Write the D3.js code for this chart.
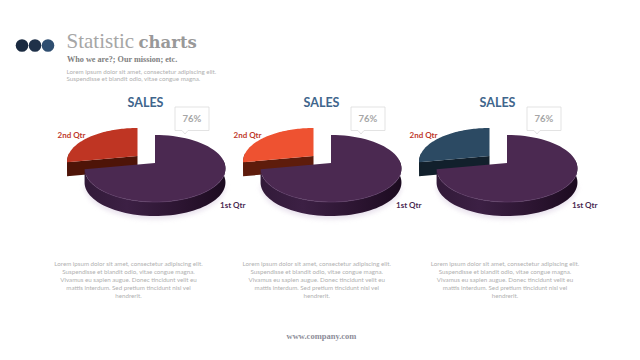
<!DOCTYPE html>
<html>
<head>
<meta charset="utf-8">
<script src="https://cdn.jsdelivr.net/npm/d3@7"></script>
<style>
  html, body { margin: 0; padding: 0; background: #fff; }
  svg { display: block; }
  text { font-family: Lato, "Open Sans", sans-serif; }
  .serif { font-family: "Liberation Serif", serif; }
  .slab { font-family: "DejaVu Serif", serif; }
</style>
</head>
<body>
<svg id="chart" width="640" height="360"></svg>
<script>
// values
var categories = ['1st Qtr', '2nd Qtr']
var shares = [72, 28] // share of the circle as drawn
var shareLabel = '76%'
var chartTitle = 'SALES'
var secondColors = ['#bf3523', '#ee5231', '#2c4a63']
var secondSides = ['#4e1408', '#5e1c0c', '#12202c']
var headerDots = ['#1a2a40', '#1f3149', '#2f4e70']
var headerBody = [
  'Lorem ipsum dolor sit amet, consectetur adipiscing elit.',
  'Suspendisse et blandit odio, vitae congue magna.'
]
var captionLines = [
  'Lorem ipsum dolor sit amet, consectetur adipiscing elit.',
  'Suspendisse et blandit odio, vitae congue magna.',
  'Vivamus eu sapien augue. Donec tincidunt velit eu',
  'mattis interdum. Sed pretium tincidunt nisl vel',
  'hendrerit.'
]

var svg = d3.select('#chart')
var defs = svg.append('defs')

defs.append('filter').attr('id', 'soft')
  .attr('x', '-20%').attr('y', '-60%').attr('width', '140%').attr('height', '220%')
  .append('feGaussianBlur').attr('stdDeviation', 2.5)

var wallGrad = defs.append('linearGradient').attr('id', 'wall')
wallGrad.append('stop').attr('offset', '0%').attr('stop-color', '#321a39')
wallGrad.append('stop').attr('offset', '30%').attr('stop-color', '#3c2044')
wallGrad.append('stop').attr('offset', '70%').attr('stop-color', '#2b1430')
wallGrad.append('stop').attr('offset', '100%').attr('stop-color', '#1c0b20')

/*
    --------------------------------------
    Header
*/
var dotX = d3.scalePoint().domain(d3.range(headerDots.length)).range([22, 48])

svg.selectAll('.dot')
  .data(headerDots)
  .enter().append('circle')
  .attr('cx', (d, i) => dotX(i))
  .attr('cy', 45.5)
  .attr('r', 6.3)
  .attr('fill', d => d)

svg.append('text').attr('class', 'serif')
  .attr('x', 66.5).attr('y', 47.5)
  .attr('font-size', 21)
  .attr('fill', '#a6a6a6')
  .text('Statistic')

svg.append('text').attr('class', 'slab')
  .attr('x', 138.5).attr('y', 47.5)
  .attr('font-size', 16.5)
  .attr('font-weight', 'bold')
  .attr('fill', '#999')
  .text('charts')

svg.append('text').attr('class', 'serif')
  .attr('x', 67).attr('y', 61.5)
  .attr('font-size', 8.2)
  .attr('font-weight', 'bold')
  .attr('fill', '#808080')
  .text('Who we are?; Our mission; etc.')

svg.selectAll('.body')
  .data(headerBody)
  .enter().append('text')
  .attr('x', 66.5)
  .attr('y', (d, i) => 73.5 + i * 7.7)
  .attr('font-size', 6.25)
  .attr('fill', '#b0b0b0')
  .text(d => d)

/*
    --------------------------------------
    Pie geometry
*/
var radiusX = 69.5
var radiusY = 32.6
var tilt = 0.164
var depth = 14

// circle point seen in perspective, angle clockwise from the top
function project (angle, r) {
  var u = Math.sin(angle) * r
  var v = -Math.cos(angle) * r
  var w = 1 - tilt * v
  return [radiusX * u / w, radiusY * v / w]
}

function arcPoints (a0, a1) {
  return d3.range(0, 61).map(i => project(a0 + (a1 - a0) * i / 60, 1))
}

var line = d3.line()

function topPath (slice) {
  return line([[0, 0]].concat(arcPoints(slice.startAngle, slice.endAngle))) + 'Z'
}

function lowered (points) {
  return points.map(p => [p[0], p[1] + depth]).reverse()
}

// outer wall, only the part that faces the viewer
function wallPath (slice) {
  var a0 = Math.max(slice.startAngle, Math.PI * 0.47)
  var a1 = Math.min(slice.endAngle, Math.PI * 1.53)
  var pts = arcPoints(a0, a1)
  return line(pts.concat(lowered(pts))) + 'Z'
}

// cut face on the far end of the exploded slice
function cutPath (slice) {
  var pts = [[0, 0], project(slice.startAngle, 1)]
  return line(pts.concat(lowered(pts))) + 'Z'
}

var pie = d3.pie().sort(null)
var slices = pie(shares)
var mainSlice = slices[0]
var sideSlice = slices[1]

var panelX = d3.scaleLinear().domain([0, 2]).range([155, 507])
var captionX = d3.scaleLinear().domain([0, 2]).range([128.5, 505])

/*
    --------------------------------------
    Panels
*/
secondColors.forEach(function (color, index) {
  var cx = panelX(index)
  var panel = svg.append('g').attr('transform', `translate(${cx},163)`)

  // soft shadow below the pie, front half only so the gap stays white
  panel.append('path')
    .attr('transform', 'translate(0,' + (depth + 3) + ')')
    .attr('d', line(arcPoints(Math.PI * 0.55, Math.PI * 1.45)) + 'Z')
    .attr('fill', '#e2d9e8')
    .attr('opacity', 0.8)
    .attr('filter', 'url(#soft)')

  // exploded slice
  var side = panel.append('g').attr('transform', 'translate(-17.5,-7)')
  side.append('path').attr('d', cutPath(sideSlice)).attr('fill', secondSides[index])
  side.append('path').attr('d', wallPath(sideSlice)).attr('fill', secondSides[index])
  side.append('path').attr('d', topPath(sideSlice)).attr('fill', color)

  // main slice
  panel.append('path').attr('d', wallPath(mainSlice)).attr('fill', 'url(#wall)')
  panel.append('path').attr('d', topPath(mainSlice)).attr('fill', '#4b2951')
  panel.append('path')
    .attr('d', line(arcPoints(Math.PI * 0.6, Math.PI * 1.35)))
    .attr('fill', 'none')
    .attr('stroke', '#5d3c66')
    .attr('stroke-width', 0.7)

  panel.append('text')
    .attr('x', -9.5).attr('y', -56)
    .attr('text-anchor', 'middle')
    .attr('font-size', 12.5)
    .attr('font-weight', 'bold')
    .attr('fill', '#40658c')
    .text(chartTitle)

  // callout with the share
  var callout = panel.append('g').attr('transform', 'translate(20,-56)')
  var box = d3.path()
  box.moveTo(0, 0)
  box.lineTo(34, 0)
  box.lineTo(34, 23.5)
  box.lineTo(13, 23.5)
  box.lineTo(10, 27)
  box.lineTo(7, 23.5)
  box.lineTo(0, 23.5)
  box.closePath()
  callout.append('path').attr('d', box.toString())
    .attr('fill', '#fff').attr('stroke', '#dcdcdc').attr('stroke-width', 0.8)
  callout.append('text')
    .attr('x', 17).attr('y', 15)
    .attr('text-anchor', 'middle')
    .attr('font-size', 9.5)
    .attr('font-weight', 'bold')
    .attr('fill', '#a6a6a6')
    .text(shareLabel)

  panel.append('text')
    .attr('x', 65).attr('y', 44.5)
    .attr('font-size', 8)
    .attr('font-weight', 'bold')
    .attr('fill', '#4a2a52')
    .text(categories[0])

  panel.append('text')
    .attr('x', -97.5).attr('y', -25)
    .attr('font-size', 8)
    .attr('font-weight', 'bold')
    .attr('fill', '#c0392b')
    .text(categories[1])

  svg.append('g').selectAll('text')
    .data(captionLines)
    .enter().append('text')
    .attr('x', captionX(index))
    .attr('y', (d, i) => 265.5 + i * 8)
    .attr('text-anchor', 'middle')
    .attr('font-size', 6.2)
    .attr('fill', '#b0b0b0')
    .text(d => d)
})

svg.append('text').attr('class', 'serif')
  .attr('x', 321.5).attr('y', 338.5)
  .attr('text-anchor', 'middle')
  .attr('font-size', 8.5)
  .attr('font-weight', 'bold')
  .attr('fill', '#8d8d99')
  .text('www.company.com')
</script>
</body>
</html>
